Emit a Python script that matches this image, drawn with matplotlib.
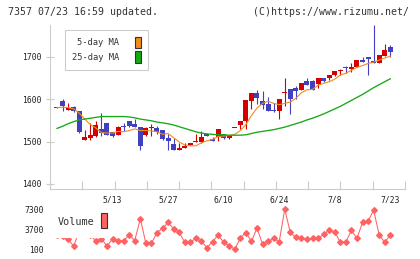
import matplotlib
matplotlib.use("Agg")
import matplotlib.pyplot as plt
from matplotlib.patches import Rectangle, Patch
import numpy as np

# daily candles for 7357, index 0 = 4/24 ... index 60 = 7/23
opens = [1580, 1596, 1575, 1582, 1571, 1504, 1508, 1514, 1529, 1544,
         1522, 1516, 1536, 1548, 1541, 1535, 1516, 1531, 1532, 1527,
         1508, 1494, 1480, 1486, 1493, 1498, 1498, 1519, 1507, 1511,
         1518, 1508, 1531, 1540, 1548, 1596, 1614, 1595, 1588, 1575,
         1571, 1615, 1624, 1627, 1622, 1642, 1642, 1635, 1649, 1649,
         1657, 1666, 1675, 1671, 1675, 1692, 1699, 1689, 1685, 1702, 1722]
highs = [1582, 1600, 1592, 1584, 1571, 1527, 1543, 1549, 1567, 1544,
         1522, 1537, 1543, 1548, 1553, 1535, 1535, 1541, 1536, 1527,
         1519, 1508, 1496, 1496, 1497, 1518, 1524, 1520, 1510, 1530,
         1519, 1516, 1532, 1549, 1598, 1615, 1621, 1620, 1605, 1592,
         1601, 1649, 1624, 1631, 1639, 1649, 1645, 1650, 1650, 1657,
         1666, 1670, 1678, 1686, 1692, 1699, 1699, 1774, 1703, 1730, 1727]
lows = [1580, 1571, 1575, 1570, 1521, 1504, 1504, 1510, 1514, 1515,
        1511, 1515, 1524, 1535, 1534, 1480, 1514, 1514, 1517, 1504,
        1480, 1480, 1480, 1485, 1491, 1498, 1497, 1513, 1502, 1502,
        1507, 1507, 1531, 1529, 1529, 1576, 1588, 1576, 1573, 1569,
        1553, 1584, 1566, 1600, 1621, 1634, 1622, 1627, 1640, 1645,
        1655, 1657, 1661, 1664, 1675, 1688, 1656, 1684, 1685, 1701, 1699]
closes = [1581, 1583, 1580, 1571, 1522, 1511, 1515, 1539, 1520, 1515,
          1512, 1535, 1534, 1536, 1535, 1490, 1533, 1533, 1522, 1506,
          1502, 1480, 1486, 1488, 1496, 1502, 1511, 1514, 1502, 1529,
          1508, 1515, 1532, 1548, 1598, 1614, 1602, 1587, 1573, 1573,
          1600, 1617, 1600, 1620, 1639, 1634, 1622, 1649, 1643, 1656,
          1666, 1669, 1673, 1675, 1692, 1688, 1694, 1684, 1703, 1716, 1710]
ma5 = [1580, 1581, 1580, 1577, 1567, 1553, 1540, 1532, 1521, 1520,
       1520, 1524, 1523, 1526, 1530, 1526, 1526, 1525, 1523, 1517,
       1519, 1509, 1499, 1492, 1490, 1490, 1497, 1502, 1505, 1512,
       1513, 1514, 1517, 1526, 1540, 1561, 1579, 1590, 1595, 1590,
       1587, 1590, 1593, 1602, 1615, 1622, 1623, 1633, 1637, 1641,
       1647, 1657, 1661, 1668, 1675, 1679, 1684, 1687, 1692, 1697, 1701]
ma25 = [1531, 1536, 1542, 1547, 1551, 1553, 1555, 1557, 1559, 1559,
        1559, 1559, 1559, 1558, 1556, 1553, 1551, 1549, 1546, 1544,
        1542, 1539, 1535, 1531, 1527, 1523, 1520, 1518, 1517, 1516,
        1516, 1515, 1515, 1515, 1516, 1519, 1522, 1524, 1526, 1528,
        1531, 1534, 1538, 1542, 1546, 1551, 1555, 1560, 1565, 1571,
        1577, 1583, 1590, 1597, 1604, 1611, 1619, 1627, 1634, 1641, 1648]
volume = [2600, 2400, 1900, 660, 3400, 2800, 2600, 1600, 2000, 660,
          1950, 1650, 1600, 2700, 1650, 5600, 1150, 1150, 3080, 3830,
          4900, 3760, 3160, 1330, 1330, 2100, 1500, 400, 1480, 2630,
          1380, 700, 100, 2100, 3080, 1500, 3870, 1050, 1500, 2040,
          1430, 7250, 3110, 2220, 2040, 1880, 2040, 2040, 2750, 3520,
          3250, 1330, 1430, 3460, 2040, 4900, 5130, 7100, 2690, 1330, 2690]
date_labels = ["5/13", "5/27", "6/10", "6/24", "7/8", "7/23"]
label_days = [10, 20, 30, 40, 50, 60]

W, H = 420, 259


def fx(px):
    return px / W


def fy(py):
    return 1 - py / H


plt.rcParams['font.family'] = ['DejaVu Sans Mono']
GRAY = "#cccccc"
TXT = "#333333"
TICK = "#222222"
UP = "#d40000"
DOWN = "#4040c0"
MA5C = "#f08c1e"
MA25C = "#16a816"
VOLC = "#ff6262"

days = np.arange(len(closes))
xlim = (-1.26, 62.65)

fig = plt.figure(figsize=(W / 100, H / 100), dpi=100)
ax = fig.add_axes([fx(50), fy(189.3), fx(405) - fx(50), fy(25) - fy(189.3)])
vax = fig.add_axes([fx(50), fy(255), fx(405) - fx(50), fy(203) - fy(255)])

# candles
o = np.array(opens)
c = np.array(closes)
colors = np.where(c >= o, UP, DOWN)
ax.vlines(days, lows, highs, colors=colors, lw=0.8)
body = np.maximum(np.abs(c - o), 2.4)
ax.bar(days, body, bottom=np.minimum(o, c), width=0.9, color=colors, lw=0)
ax.plot(days, ma5, color=MA5C, lw=0.8)
ax.plot(days, ma25, color=MA25C, lw=0.95)

ax.set_xlim(xlim)
ax.set_ylim(1387.5, 1774.7)
for s in ["top", "right"]:
    ax.spines[s].set_visible(False)
for s in ["left", "bottom"]:
    ax.spines[s].set_color(GRAY)
    ax.spines[s].set_linewidth(0.8)
ax.set_yticks([1400, 1500, 1600, 1700])
ax.tick_params(axis='y', direction='inout', length=6, width=0.8, color=GRAY,
               labelsize=5.8, labelcolor=TICK, pad=3)
ax.set_xticks(label_days, date_labels)
ax.set_xticks(np.linspace(xlim[0], xlim[1], 12), minor=True)
ax.tick_params(axis='x', which='major', length=0, pad=4.5, labelsize=5.8,
               labelcolor=TICK)
ax.tick_params(axis='x', which='minor', direction='in', length=6, width=0.8,
               color=GRAY)

leg = ax.legend(handles=[Patch(fc=MA5C, ec=TXT, lw=0.8, label="5-day MA"),
                         Patch(fc=MA25C, ec=TXT, lw=0.8, label="25-day MA")],
                markerfirst=False, loc="upper left",
                bbox_to_anchor=(fx(65), fy(30)), bbox_transform=fig.transFigure,
                borderaxespad=0, fontsize=6.3, handlelength=0.7,
                handleheight=1.6, handletextpad=1.8, labelspacing=0.35,
                borderpad=0.8, fancybox=False, edgecolor=GRAY, framealpha=1,
                labelcolor=TXT)
leg.get_frame().set_linewidth(0.8)

# volume
vax.plot(days, volume, color=VOLC, lw=0.75, marker='D', ms=2.9, mec=VOLC, mfc=VOLC)
vax.set_xlim(xlim)
vax.set_ylim(-918, 8372)
vax.set_xticks([])
vax.set_yticks([100, 3700, 7300])
vax.tick_params(axis='y', length=0, pad=4.2, labelsize=5.8, labelcolor=TICK)
for s in vax.spines.values():
    s.set_visible(False)

fig.add_artist(Rectangle((fx(52), fy(237.7)), fx(110) - fx(52), fy(204) - fy(237.7),
                         transform=fig.transFigure, fc="white", ec="none", zorder=5))
fig.text(fx(58), fy(222), "Volume", fontsize=7.3, color=TXT, ha="left", va="center", zorder=6)
fig.add_artist(Rectangle((fx(101), fy(228.3)), fx(107.3) - fx(101), fy(213.3) - fy(228.3),
                         transform=fig.transFigure, fc=VOLC, ec=TXT, lw=0.8, zorder=6))

fig.text(fx(8.3), fy(12.3), "7357 07/23 16:59 updated.", fontsize=7.1, color=TXT,
         ha="left", va="center")
fig.text(fx(409.3), fy(12.3), "(C)https://www.rizumu.net/", fontsize=7.1, color=TXT,
         ha="right", va="center")

fig.savefig("out.png", dpi=100)
